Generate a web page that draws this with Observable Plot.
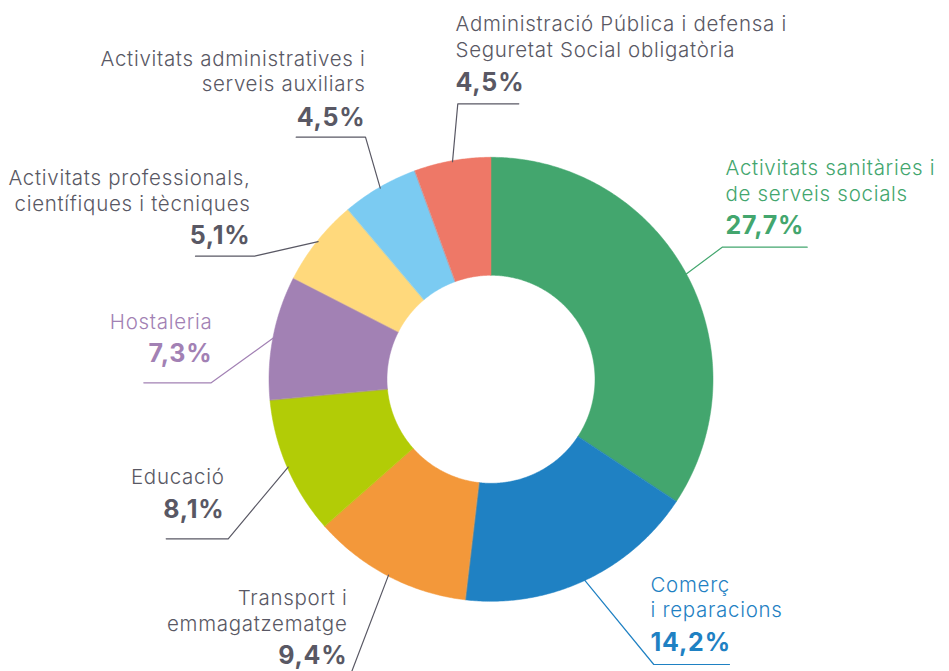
<!DOCTYPE html>
<html>
<head>
<meta charset="utf-8">
<script src="https://cdn.jsdelivr.net/npm/d3@7"></script>
<script src="https://cdn.jsdelivr.net/npm/@observablehq/plot@0.6"></script>
<style>
  html, body { margin: 0; padding: 0; background: #fff; }
  #chart svg { display: block; }
</style>
</head>
<body>
<div id="chart"></div>
<script>
// ---- data ----
const categories = [
  "Activitats sanitàries i de serveis socials",
  "Comerç i reparacions",
  "Transport i emmagatzematge",
  "Educació",
  "Hostaleria",
  "Activitats professionals, científiques i tècniques",
  "Activitats administratives i serveis auxiliars",
  "Administració Pública i defensa i Seguretat Social obligatòria"
];
const labelLines = [
  ["Activitats sanitàries i", "de serveis socials"],
  ["Comerç", "i reparacions"],
  ["Transport i", "emmagatzematge"],
  ["Educació"],
  ["Hostaleria"],
  ["Activitats professionals,", "científiques i tècniques"],
  ["Activitats administratives i", "serveis auxiliars"],
  ["Administració Pública i defensa i", "Seguretat Social obligatòria"]
];
const values = [27.7, 14.2, 9.4, 8.1, 7.3, 5.1, 4.5, 4.5];
const sliceColors = ["#43a66e", "#1f81c3", "#f3983a", "#b2cc06", "#a281b4", "#ffd97c", "#7bcbf2", "#ee7867"];
const GRAY = "#595864";
const labelColors = ["#43a66e", "#1f81c3", GRAY, GRAY, "#a281b4", GRAY, GRAY, GRAY];

// ---- layout (pixel space) ----
const W = 949, H = 671;
const CX = 490.5, CY = 378.8, R_OUT = 222, R_IN = 104;
const layout = [
  {tx: 725,   anchor: "start", nameY: 200,   valueY: 233.5, elbow: [721.7, 246.7], end: [806.7, 246.7]},
  {tx: 650,   anchor: "start", nameY: 616.7, valueY: 650.7, elbow: [653.3, 664],   end: [729, 664]},
  {tx: 347,   anchor: "end",   nameY: 630,   valueY: 663.5, elbow: [344, 690],     end: [344, 690]},
  {tx: 224,   anchor: "end",   nameY: 483.3, valueY: 517.3, elbow: [227.7, 538.3], end: [165.7, 538.3]},
  {tx: 212,   anchor: "end",   nameY: 328.3, valueY: 361.7, elbow: [210.7, 382.3], end: [143.3, 382.3]},
  {tx: 250,   anchor: "end",   nameY: 210,   valueY: 243.5, elbow: [254, 255.7],   end: [195, 255.7]},
  {tx: 365,   anchor: "end",   nameY: 90.7,  valueY: 125,   elbow: [365, 136.7],   end: [295.7, 136.7]},
  {tx: 455,   anchor: "start", nameY: 56,    valueY: 90,    elbow: [457.3, 103.3], end: [518.3, 103.3]}
];
const LINE_GAP = 25.3;
const NAME_SIZE = 20.5, VALUE_SIZE = 25;

// ---- derived geometry ----
const total = d3.sum(values);
const toRad = (frac) => frac * 2 * Math.PI;
let acc = 0;
const slices = values.map((v, i) => {
  const a0 = toRad(acc / total);
  acc += v;
  const a1 = toRad(acc / total);
  return {cat: categories[i], a0, a1, mid: (a0 + a1) / 2};
});
const pt = (a, r) => ({x: CX + r * Math.sin(a), y: CY - r * Math.cos(a)});

const slicePts = [];
for (const s of slices) {
  const n = Math.max(2, Math.ceil((s.a1 - s.a0) / (Math.PI / 360)));
  for (let k = 0; k <= n; k++) slicePts.push({cat: s.cat, ...pt(s.a0 + (s.a1 - s.a0) * k / n, R_OUT)});
  for (let k = n; k >= 0; k--) slicePts.push({cat: s.cat, ...pt(s.a0 + (s.a1 - s.a0) * k / n, R_IN)});
}

const fmt = (v) => v.toFixed(1).replace(".", ",") + "%";

const leaderMarks = slices.map((s, i) => {
  const start = pt(s.mid, R_OUT - 1);
  const L = layout[i];
  const pts = [start, {x: L.elbow[0], y: L.elbow[1]}, {x: L.end[0], y: L.end[1]}];
  return Plot.line(pts, {x: "x", y: "y", stroke: labelColors[i], strokeWidth: 1.2});
});

const nameMarks = slices.map((s, i) => {
  const L = layout[i];
  const lines = labelLines[i];
  const rows = lines.map((t, j) => ({t, x: L.tx, y: L.nameY - (lines.length - 1 - j) * LINE_GAP}));
  return Plot.text(rows, {
    x: "x", y: "y", text: "t", textAnchor: L.anchor, lineAnchor: "bottom",
    fill: labelColors[i], fontSize: NAME_SIZE, fontWeight: 300
  });
});

const valueMarks = slices.map((s, i) => {
  const L = layout[i];
  return Plot.text([{t: fmt(values[i]), x: L.tx, y: L.valueY}], {
    x: "x", y: "y", text: "t", textAnchor: L.anchor, lineAnchor: "bottom",
    fill: labelColors[i], fontSize: VALUE_SIZE, fontWeight: 700
  });
});

const chart = Plot.plot({
  width: W, height: H, margin: 0,
  x: {domain: [0, W], range: [0, W], axis: null},
  y: {domain: [0, H], range: [0, H], axis: null},
  color: {domain: categories, range: sliceColors},
  style: {fontFamily: "Inter, 'Noto Sans', sans-serif", background: "white", overflow: "hidden"},
  marks: [
    Plot.line(slicePts, {x: "x", y: "y", z: "cat", fill: "cat", stroke: "cat", strokeWidth: 0.5, curve: "linear-closed"}),
    ...leaderMarks,
    ...nameMarks,
    ...valueMarks
  ]
});
// wider tracking to approach the geometric sans of the original
d3.select(chart).selectAll(`g[font-size="${NAME_SIZE}"] text`).style("letter-spacing", "0.7px");
d3.select(chart).selectAll(`g[font-size="${VALUE_SIZE}"] text`).style("letter-spacing", "0.8px");
document.getElementById("chart").appendChild(chart);
</script>
</body>
</html>
